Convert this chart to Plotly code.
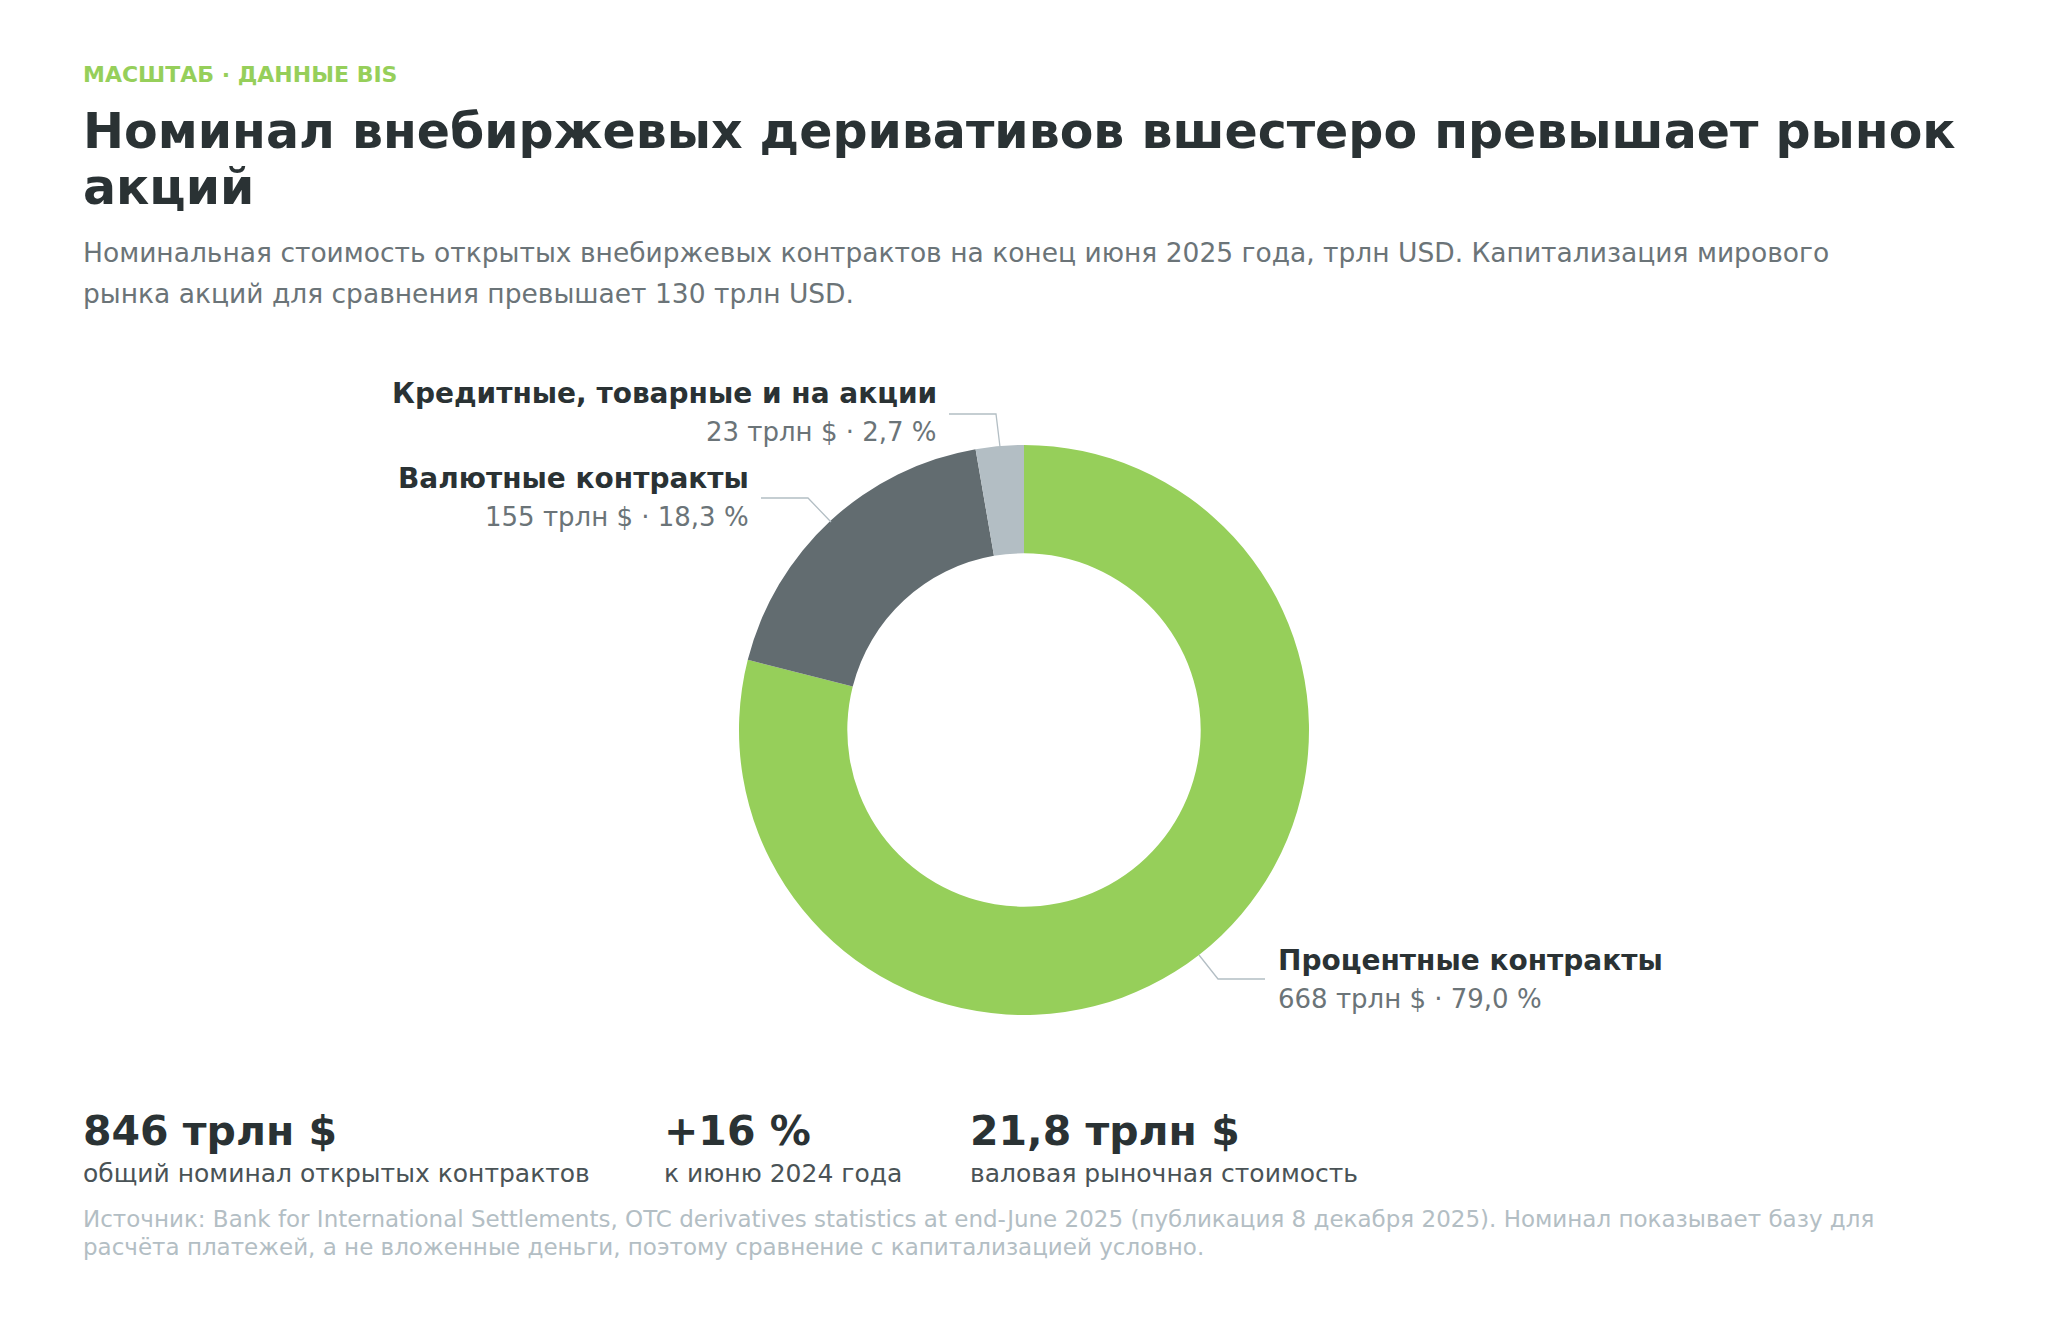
import plotly.graph_objects as go

# данные BIS, конец июня 2025, трлн USD
segments = ["Процентные контракты", "Валютные контракты", "Кредитные, товарные и на акции"]
values = [668, 155, 23]
shares = ["79,0 %", "18,3 %", "2,7 %"]
colors = ["#96cf5a", "#626c70", "#b3bec4"]

stat_values = ["846 трлн $", "+16 %", "21,8 трлн $"]
stat_labels = ["общий номинал открытых контрактов", "к июню 2024 года", "валовая рыночная стоимость"]

W, H = 2048, 1324
OFF = 8  # страница рисуется со сдвигом, компенсируем
FONT = "DejaVu Sans"
DARK = "#2a3234"
GREY = "#6b7478"
LIGHT = "#b3bec4"

fig = go.Figure()

cx, cy = 1024 - OFF, 730 - OFF
fig.add_trace(go.Pie(
    labels=segments, values=values, sort=False, direction="clockwise", rotation=0,
    hole=0.62, marker=dict(colors=colors, line=dict(color="white", width=0)),
    textinfo="none", hoverinfo="label+value", showlegend=False,
    domain=dict(x=[(cx - 285) / W, (cx + 285) / W], y=[(H - cy - 285) / H, (H - cy + 285) / H]),
))

shapes = []
leaders = [
    [(1265, 979), (1218, 979), (1199, 955)],
    [(761, 498), (808, 498), (831, 522)],
    [(949, 414), (996, 414), (1000, 447)],
]
for pts in leaders:
    p = "M " + " L ".join(f"{x - OFF},{y - OFF}" for x, y in pts)
    shapes.append(dict(type="path", path=p, xref="x", yref="y",
                       line=dict(color="#b3bec4", width=1.3)))

ann = []


def text(x, y, s, size, color, bold=False, anchor="left"):
    if bold:
        s = f"<b>{s}</b>"
    ann.append(dict(x=x - OFF, y=y - OFF, xref="x", yref="y", text=s, showarrow=False,
                    xanchor=anchor, yanchor="middle", align=anchor,
                    font=dict(family=FONT, size=size, color=color)))


text(81, 74, "МАСШТАБ · ДАННЫЕ BIS", 22, "#96cf5a", True)
text(81, 131, "Номинал внебиржевых деривативов вшестеро превышает рынок", 49, DARK, True)
text(81, 187, "акций", 49, DARK, True)
text(81, 252, "Номинальная стоимость открытых внебиржевых контрактов на конец июня 2025 года, трлн USD. Капитализация мирового", 26.5, GREY)
text(81, 293, "рынка акций для сравнения превышает 130 трлн USD.", 26.5, GREY)

label_pos = [(1276, 960, "left"), (751, 478, "right"), (939, 393, "right")]
for (x, y, a), name, v, sh in zip(label_pos, segments, values, shares):
    text(x, y, name, 28, DARK, True, a)
    text(x, y + 39, f"{v} трлн $ · {sh}", 26, GREY, False, a)

for x, v, l in zip([81, 662, 968], stat_values, stat_labels):
    text(x, 1131, v, 41, DARK, True)
    text(x, 1173, l, 25, "#4a5356")

text(81, 1219, "Источник: Bank for International Settlements, OTC derivatives statistics at end-June 2025 (публикация 8 декабря 2025). Номинал показывает базу для", 23, LIGHT)
text(81, 1247, "расчёта платежей, а не вложенные деньги, поэтому сравнение с капитализацией условно.", 23, LIGHT)

fig.update_layout(
    width=W, height=H, margin=dict(l=0, r=0, t=0, b=0),
    paper_bgcolor="white", plot_bgcolor="rgba(0,0,0,0)",
    xaxis=dict(range=[0, W], visible=False, fixedrange=True),
    yaxis=dict(range=[H, 0], visible=False, fixedrange=True),
    shapes=shapes, annotations=ann,
)

fig.write_html("out.html")
